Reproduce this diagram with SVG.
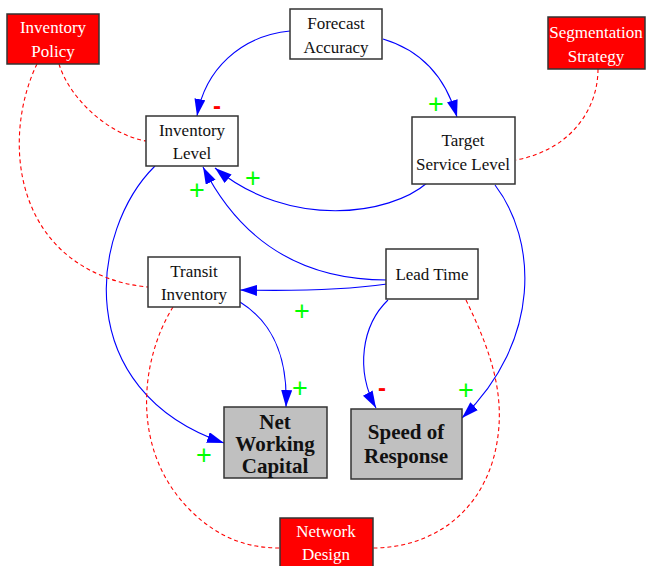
<svg xmlns="http://www.w3.org/2000/svg" width="648" height="566" viewBox="0 0 648 566">
<style>
.box{fill:#fff;stroke:#333;stroke-width:1.5}
.red{fill:#f00;stroke:#333;stroke-width:1.5}
.gray{fill:#c0c0c0;stroke:#333;stroke-width:1.5}
.t{font-family:"Liberation Serif","Times New Roman",serif;font-size:17px;fill:#111;text-anchor:middle}
.tw{font-family:"Liberation Serif","Times New Roman",serif;font-size:17px;fill:#fff;text-anchor:middle}
.tb{font-family:"Liberation Serif","Times New Roman",serif;font-size:21px;font-weight:bold;fill:#111;text-anchor:middle}
.link{fill:none;stroke:#00f;stroke-width:1.1;marker-end:url(#arr)}
.dash{fill:none;stroke:#f00;stroke-width:1.1;stroke-dasharray:4 3}
.plus{font-family:"Liberation Sans",Arial,sans-serif;font-size:27px;fill:#0f0;text-anchor:middle}
.minus{font-family:"Liberation Sans",Arial,sans-serif;font-size:24px;font-weight:bold;fill:#f00;text-anchor:middle}
</style>
<defs>
<marker id="arr" markerUnits="userSpaceOnUse" markerWidth="19" markerHeight="13" refX="17" refY="5.5" orient="auto">
<path d="M0,0 L17,5.5 L0,11 z" fill="#00f"/>
</marker>
</defs>
<rect width="648" height="566" fill="#fff"/>
<g id="connectors">
<path class="link" d="M290,31 C240,36 205,70 197,116"/>
<path class="link" d="M383,39 C420,50 445,75 457,117"/>
<path class="link" d="M427,183 C390,215 290,230 215,168"/>
<path class="link" d="M387,280 C300,280 240,240 203,167"/>
<path class="link" d="M387,284 Q330,292 240,290"/>
<path class="link" d="M155,166 C90,230 70,390 224,443"/>
<path class="link" d="M240,302 C272,322 288,355 286,407"/>
<path class="link" d="M388,300 C362,325 355,370 376,408"/>
<path class="link" d="M495,185 C537,240 542,340 462,418"/>
<path class="dash" d="M59,64 C70,100 110,135 146,141"/>
<path class="dash" d="M37,64 C5,130 10,240 105,277 Q125,285 148,287"/>
<path class="dash" d="M598,69 C598,110 570,150 516,160"/>
<path class="dash" d="M466,300 C490,350 510,400 493,460 C475,520 425,548 373,548"/>
<path class="dash" d="M173,307 C140,360 130,450 190,510 C220,540 250,548 280,548"/>
<text class="minus" x="217" y="114">-</text>
<text class="plus" x="436" y="113">+</text>
<text class="plus" x="253" y="187">+</text>
<text class="plus" x="197" y="199">+</text>
<text class="plus" x="302" y="320">+</text>
<text class="plus" x="300" y="397">+</text>
<text class="plus" x="466" y="399">+</text>
<text class="plus" x="204" y="464">+</text>
<text class="minus" x="382" y="396">-</text>
</g>
<g id="inventory-policy"><rect class="red" x="7" y="14" width="92" height="50"/><text class="tw" x="53" y="33">Inventory</text><text class="tw" x="53" y="57">Policy</text></g>
<g id="forecast-accuracy"><rect class="box" x="290" y="9" width="92" height="50"/><text class="t" x="336" y="29">Forecast</text><text class="t" x="336" y="53">Accuracy</text></g>
<g id="segmentation-strategy"><rect class="red" x="548" y="17" width="97" height="52"/><text class="tw" x="596" y="38">Segmentation</text><text class="tw" x="596" y="62">Strategy</text></g>
<g id="inventory-level"><rect class="box" x="146" y="116" width="92" height="50"/><text class="t" x="192" y="136">Inventory</text><text class="t" x="192" y="159">Level</text></g>
<g id="target-service-level"><rect class="box" x="412" y="117" width="103" height="67"/><text class="t" x="463" y="146">Target</text><text class="t" x="463" y="170">Service Level</text></g>
<g id="transit-inventory"><rect class="box" x="148" y="257" width="92" height="50"/><text class="t" x="194" y="277">Transit</text><text class="t" x="194" y="300">Inventory</text></g>
<g id="lead-time"><rect class="box" x="386" y="249" width="92" height="50"/><text class="t" x="432" y="280">Lead Time</text></g>
<g id="net-working-capital"><rect class="gray" x="224" y="407" width="103" height="71"/><text class="tb" x="275" y="429">Net</text><text class="tb" x="275" y="451">Working</text><text class="tb" x="275" y="473">Capital</text></g>
<g id="speed-of-response"><rect class="gray" x="351" y="409" width="111" height="70"/><text class="tb" x="406" y="439">Speed of</text><text class="tb" x="406" y="463">Response</text></g>
<g id="network-design"><rect class="red" x="280" y="518" width="93" height="50"/><text class="tw" x="326" y="537">Network</text><text class="tw" x="326" y="560">Design</text></g>
</svg>
